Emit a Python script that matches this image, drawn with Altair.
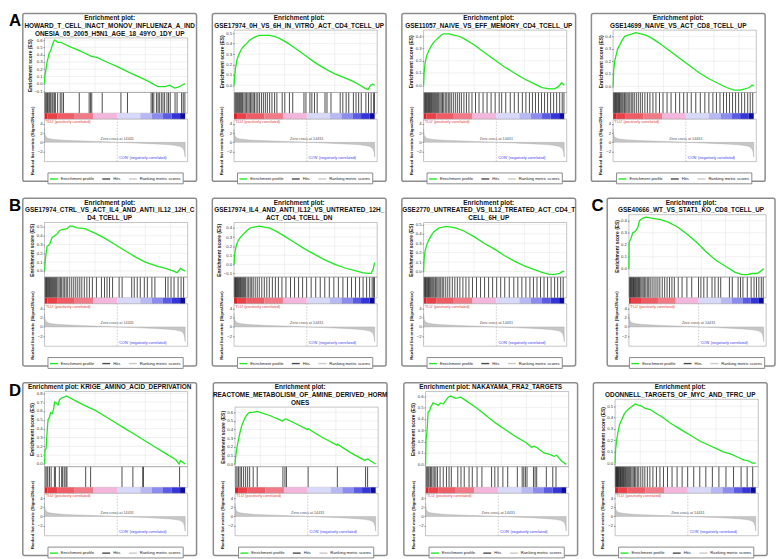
import altair as alt
import pandas as pd

FONT = "Liberation Sans"
XMAX = 28400
X_TICKS = [0, 5000, 10000, 15000, 20000, 25000]
RANK_DOMAIN = [-4.2, 5.05]
RANK_TICKS = [-2, 0, 2, 4]
ZERO_CROSS = 14431
LEGEND_LABELS = ["Enrichment profile", "Hits", "Ranking metric scores"]
LEGEND_COLORS = ["#1ee81e", "#4a4a4a", "#c8c8c8"]

# ranked list metric (shared by all panels)
rank_x = [0, 30, 80, 150, 300, 500, 800, 1200, 2000, 3000, 4000, 5000, 6500, 8000, 10000,
          12000, 14431, 16000, 18000, 20000, 22000, 23500, 25000, 26000, 26800, 27300, 27600,
          27800, 27900]
rank_y = [2.9, 2.3, 1.8, 1.5, 1.2, 1.0, 0.85, 0.75, 0.62, 0.52, 0.45, 0.4, 0.33, 0.27, 0.19,
          0.11, 0.0, -0.07, -0.15, -0.24, -0.34, -0.43, -0.55, -0.68, -0.85, -1.1, -1.5,
          -2.2, -3.2]

# colour bar segments
cb_start = [0, 600, 2500, 6000, 9700, 14431, 19000, 21300, 23500, 25200, 26900]
cb_end = [600, 2500, 6000, 9700, 14431, 19000, 21300, 23500, 25200, 26900, 27900]
cb_value = [1.0, 0.9, 0.8, 0.7, 0.35, -0.2, -0.35, -0.55, -0.7, -0.85, -1.0]
cb_scale_domain = [-1.0, -0.85, -0.7, -0.55, -0.35, -0.2, 0.35, 0.7, 0.8, 0.9, 1.0]
cb_scale_colors = ["#0c0c9c", "#3434d8", "#5a5ae6", "#8c8cf0", "#b8b8f4", "#d8d8f8",
                   "#f4b6dc", "#f07a86", "#ee5c66", "#ea4048", "#dc2028"]

# ---------------- panel A1
a1_title = ["Enrichment plot:", "HOWARD_T_CELL_INACT_MONOV_INFLUENZA_A_IND",
            "ONESIA_05_2005_H5N1_AGE_18_49YO_1DY_UP"]
a1_es_x = [0, 100, 300, 500, 700, 900, 1200, 1500, 1800, 2000, 2300, 2600, 3300, 3500, 5000,
           6800, 8000, 9200, 10500, 12000, 14000, 17000, 19500, 21000, 22500, 24000, 24800,
           25800, 26400, 27000, 27500, 27900]
a1_es_y = [0, 0.12, 0.2, 0.3, 0.35, 0.42, 0.45, 0.52, 0.58, 0.6, 0.59, 0.57, 0.57, 0.56, 0.51,
           0.46, 0.42, 0.38, 0.36, 0.31, 0.25, 0.15, 0.07, 0.02, -0.04, -0.04, -0.02, -0.06,
           -0.05, -0.03, -0.01, 0.0]
a1_dom = [-0.12, 0.63]
a1_ticks = [-0.1, 0.0, 0.1, 0.2, 0.3, 0.4, 0.5, 0.6]
a1_hits = [60, 250, 450, 580, 840, 1030, 1230, 1490, 1680, 1950, 2150, 2600, 3120, 3440, 3770,
           6890, 8850, 9110, 9370, 11450, 15160, 16460, 21150, 21420, 21680, 22200, 22520,
           22780, 23170, 23500, 23830, 24290, 24610, 24940, 25900, 26300, 27200, 27520, 27850]

# ---------------- panel A2
a2_title = ["Enrichment plot:", "GSE17974_0H_VS_6H_IN_VITRO_ACT_CD4_TCELL_UP"]
a2_es_x = [0, 100, 300, 600, 1000, 1500, 2000, 2500, 3000, 4000, 5000, 6000, 7000, 8000, 9000,
           10500, 12000, 14000, 16000, 18000, 20000, 22000, 23500, 25000, 26000, 26600, 27100,
           27500, 27900]
a2_es_y = [0, 0.08, 0.17, 0.25, 0.3, 0.35, 0.38, 0.4, 0.43, 0.46, 0.48, 0.48, 0.48, 0.47, 0.45,
           0.41, 0.36, 0.29, 0.22, 0.16, 0.11, 0.07, 0.04, 0.0, -0.03, -0.04, 0.0, 0.01, 0.0]
a2_dom = [-0.07, 0.53]
a2_ticks = [0.0, 0.1, 0.2, 0.3, 0.4, 0.5]
a2_hits = [130, 330, 520, 720, 920, 1110, 1310, 1510, 1700, 1960, 2220, 2490, 2750, 3010, 3270,
           3530, 3790, 4050, 4380, 4710, 5030, 5430, 5820, 6210, 6610, 7060, 7520, 8040, 8500,
           9550, 10070, 10990, 11640, 13870, 14260, 15050, 15440, 15960, 16490, 18050, 18440,
           19230, 21060, 21580, 22240, 22760, 23680, 24200, 24720, 25240, 26160, 26680, 27200,
           27700, 27850]

# ---------------- panel A3
a3_title = ["Enrichment plot:", "GSE11057_NAIVE_VS_EFF_MEMORY_CD4_TCELL_UP"]
a3_es_x = [0, 100, 300, 600, 1000, 1500, 2000, 2500, 3000, 3500, 4000, 5000, 6000, 7000, 8000,
           10000, 12000, 14000, 16000, 18000, 20000, 22000, 23500, 25000, 26000, 26800, 27400,
           27900]
a3_es_y = [0, 0.1, 0.18, 0.24, 0.28, 0.32, 0.35, 0.37, 0.39, 0.41, 0.42, 0.42, 0.41, 0.4, 0.38,
           0.33, 0.27, 0.21, 0.15, 0.1, 0.05, 0.01, -0.02, -0.03, -0.03, -0.01, 0.02, 0.0]
a3_dom = [-0.06, 0.45]
a3_ticks = [0.0, 0.1, 0.2, 0.3, 0.4]
a3_hits = [100, 250, 400, 550, 700, 850, 1000, 1150, 1300, 1450, 1600, 1800, 2000, 2200, 2400,
           2600, 2800, 3000, 3250, 3500, 3750, 4000, 4300, 4600, 4900, 5200, 5500, 5900, 6300,
           6700, 7100, 7500, 8000, 8500, 9000, 9600, 10300, 11000, 11800, 12600, 13400, 14200,
           15000, 15500, 16300, 17200, 18000, 18800, 19600, 20300, 21000, 21600, 22200, 22800,
           23400, 24000, 24600, 25200, 25800, 26400, 27000, 27500, 27850]

# ---------------- panel A4
a4_title = ["Enrichment plot:", "GSE14699_NAIVE_VS_ACT_CD8_TCELL_UP"]
a4_es_x = [0, 100, 300, 600, 900, 1300, 1800, 2300, 3000, 3800, 4500, 5500, 6500, 7500, 9000,
           11000, 13000, 15000, 17000, 19000, 21000, 22500, 24000, 25200, 26200, 27000, 27600,
           27900]
a4_es_y = [0, 0.12, 0.2, 0.25, 0.3, 0.33, 0.37, 0.4, 0.41, 0.42, 0.43, 0.42, 0.41, 0.39, 0.35,
           0.29, 0.23, 0.17, 0.11, 0.06, 0.02, -0.01, -0.03, -0.03, -0.02, -0.01, 0.01, 0.0]
a4_dom = [-0.05, 0.45]
a4_ticks = [0.0, 0.1, 0.2, 0.3, 0.4]
a4_hits = [80, 220, 360, 500, 640, 800, 950, 1100, 1250, 1400, 1600, 1800, 2000, 2250, 2500,
           2750, 3000, 3300, 3600, 3900, 4200, 4600, 5000, 5400, 5800, 6300, 6800, 7300, 7900,
           8500, 9200, 9900, 10700, 11500, 12400, 13200, 14000, 14700, 15500, 16400, 17300,
           18200, 19000, 19800, 20500, 21200, 21900, 22500, 23100, 23700, 24300, 24900, 25500,
           26100, 26700, 27200, 27700]

# ---------------- panel B1
b1_title = ["Enrichment plot:", "GSE17974_CTRL_VS_ACT_IL4_AND_ANTI_IL12_12H_C", "D4_TCELL_UP"]
b1_es_x = [0, 200, 500, 1000, 1500, 2000, 2500, 3000, 3500, 4500, 5000, 5500, 6500, 8000,
           10000, 12000, 14000, 16000, 18000, 20000, 22000, 24000, 25500, 26300, 27000, 27500,
           27900]
b1_es_y = [0, 0.15, 0.28, 0.3, 0.38, 0.4, 0.42, 0.46, 0.47, 0.48, 0.51, 0.51, 0.49, 0.48,
           0.43, 0.37, 0.3, 0.23, 0.16, 0.1, 0.06, 0.03, 0.0, -0.02, 0.03, 0.01, 0.0]
b1_dom = [-0.07, 0.55]
b1_ticks = [0.0, 0.1, 0.2, 0.3, 0.4, 0.5]
b1_hits = [100, 250, 400, 550, 700, 850, 1000, 1200, 1400, 1600, 1800, 2000, 2200, 2400, 2650,
           2900, 3150, 3400, 3700, 4000, 4300, 4600, 5000, 5400, 5800, 6200, 6600, 7000, 7400,
           7900, 8400, 8900, 9500, 10300, 11300, 11900, 12400, 12900, 13500, 14800, 15400,
           17300, 17800, 18400, 19000, 19800, 20400, 21300, 21900, 24000, 24500, 25100, 25700,
           26500, 27100, 27600]

# ---------------- panel B2
b2_title = ["Enrichment plot:", "GSE17974_IL4_AND_ANTI_IL12_VS_UNTREATED_12H_",
            "ACT_CD4_TCELL_DN"]
b2_es_x = [0, 150, 400, 800, 1300, 1800, 2500, 3200, 4000, 5000, 6000, 7000, 8500, 10000,
           12000, 14000, 16000, 18000, 20000, 22000, 24000, 25500, 26500, 27200, 27600, 27900]
b2_es_y = [0, 0.12, 0.2, 0.26, 0.3, 0.33, 0.37, 0.4, 0.41, 0.42, 0.41, 0.4, 0.36, 0.31, 0.24,
           0.17, 0.11, 0.05, 0.0, -0.04, -0.07, -0.09, -0.1, -0.1, -0.05, 0.02]
b2_dom = [-0.14, 0.46]
b2_ticks = [-0.1, 0.0, 0.1, 0.2, 0.3, 0.4]
b2_hits = [60, 180, 300, 420, 550, 700, 850, 1000, 1150, 1300, 1500, 1700, 1900, 2100, 2300,
           2600, 2900, 3200, 3500, 3800, 4200, 4600, 5000, 5500, 6000, 6500, 7000, 7600, 8200,
           8800, 9500, 10300, 11200, 12000, 12800, 13600, 14400, 15300, 16200, 17100, 18000,
           18900, 19800, 20700, 21600, 22500, 23300, 24100, 24900, 25600, 26300, 26900, 27400,
           27700, 27850]

# ---------------- panel B3
b3_title = ["Enrichment plot:", "GSE2770_UNTREATED_VS_IL12_TREATED_ACT_CD4_T", "CELL_6H_UP"]
b3_es_x = [0, 100, 300, 600, 1000, 1500, 2000, 2500, 3000, 3800, 4500, 5500, 6500, 8000, 10000,
           12000, 14000, 16000, 18000, 20000, 22000, 23500, 25000, 26000, 27000, 27600, 27900]
b3_es_y = [0, 0.13, 0.22, 0.28, 0.33, 0.38, 0.42, 0.44, 0.46, 0.47, 0.48, 0.47, 0.46, 0.43,
           0.37, 0.3, 0.24, 0.17, 0.11, 0.06, 0.02, -0.01, -0.03, -0.03, -0.02, 0.0, 0.0]
b3_dom = [-0.06, 0.52]
b3_ticks = [0.0, 0.1, 0.2, 0.3, 0.4, 0.5]
b3_hits = [90, 230, 370, 520, 670, 820, 980, 1150, 1320, 1500, 1700, 1900, 2100, 2350, 2600,
           2850, 3100, 3400, 3700, 4000, 4400, 4800, 5200, 5700, 6200, 6700, 7200, 7800, 8400,
           9000, 9700, 10500, 11300, 12100, 12900, 13700, 14500, 15300, 16100, 17000, 17900,
           18700, 19500, 20300, 21100, 21800, 22500, 23200, 23900, 24600, 25300, 26000, 26600,
           27200, 27700]

# ---------------- panel C
c1_title = ["Enrichment plot:", "GSE40666_WT_VS_STAT1_KO_CD8_TCELL_UP"]
c1_es_x = [0, 50, 400, 800, 1300, 1800, 2200, 2800, 3500, 5000, 6500, 8000, 10000, 12000,
           14000, 16000, 18000, 20000, 22000, 23500, 24500, 25500, 26500, 27300, 27900]
c1_es_y = [0, 0.22, 0.25, 0.3, 0.31, 0.34, 0.4, 0.42, 0.43, 0.42, 0.41, 0.39, 0.35, 0.29,
           0.22, 0.14, 0.07, 0.02, -0.03, -0.05, -0.05, -0.04, -0.04, -0.02, 0.0]
c1_dom = [-0.07, 0.45]
c1_ticks = [0.0, 0.1, 0.2, 0.3, 0.4]
c1_hits = [100, 230, 360, 500, 650, 800, 950, 1100, 1250, 1400, 1600, 1800, 2000, 2200, 2450,
           2700, 2950, 3200, 3500, 3800, 4100, 4400, 4800, 5200, 5600, 6000, 6400, 6900, 7400,
           7900, 8400, 8900, 9400, 10200, 11000, 12000, 13000, 14400, 14900, 15500, 16200,
           17200, 17800, 18500, 19000, 20800, 21400, 22600, 23100, 23600, 24500, 25300, 25900,
           26400, 26900, 27400, 27800]

# ---------------- panel D1
d1_title = ["Enrichment plot: KRIGE_AMINO_ACID_DEPRIVATION"]
d1_es_x = [0, 100, 300, 500, 700, 1000, 1200, 1500, 1800, 2000, 2300, 2700, 3000, 3500, 4000,
           4300, 5000, 6000, 8000, 10000, 12000, 14000, 16000, 18000, 20000, 22000, 24000,
           26000, 26700, 27000, 27400, 27900]
d1_es_y = [0, 0.16, 0.17, 0.35, 0.5, 0.53, 0.58, 0.57, 0.62, 0.7, 0.69, 0.67, 0.73, 0.75,
           0.76, 0.77, 0.75, 0.72, 0.66, 0.61, 0.54, 0.47, 0.4, 0.33, 0.26, 0.19, 0.12, 0.05,
           0.0, 0.04, 0.02, 0.0]
d1_dom = [-0.03, 0.82]
d1_ticks = [0.0, 0.1, 0.2, 0.3, 0.4, 0.5, 0.6, 0.7, 0.8]
d1_hits = [130, 460, 650, 980, 1310, 1960, 2160, 2940, 3400, 3600, 3920, 4250, 4450, 8170,
           9150, 15370, 17530, 19490, 19620, 26800]

# ---------------- panel D2
d2_title = ["Enrichment plot:", "REACTOME_METABOLISM_OF_AMINE_DERIVED_HORM", "ONES"]
d2_es_x = [0, 150, 400, 700, 1000, 1300, 1700, 2100, 2500, 2900, 3600, 4400, 5000, 7000, 9400,
           9900, 10200, 12000, 14400, 14500, 17000, 20200, 20300, 23000, 25800, 25900, 26300,
           27900]
d2_es_y = [0, 0.1, 0.2, 0.29, 0.37, 0.44, 0.5, 0.55, 0.58, 0.6, 0.6, 0.61, 0.6, 0.56, 0.5,
           0.52, 0.52, 0.47, 0.4, 0.41, 0.32, 0.22, 0.23, 0.13, 0.04, 0.05, 0.06, 0.0]
d2_dom = [-0.03, 0.66]
d2_ticks = [0.0, 0.1, 0.2, 0.3, 0.4, 0.5, 0.6]
d2_hits = [150, 400, 700, 1000, 1300, 1700, 2100, 2500, 2900, 3600, 4400, 9500, 9900, 10200,
           14500, 20300, 25900, 26300]

# ---------------- panel D3
d3_title = ["Enrichment plot: NAKAYAMA_FRA2_TARGETS"]
d3_es_x = [0, 100, 300, 500, 800, 1000, 1500, 2000, 2500, 3000, 3500, 4000, 4500, 5000, 6000,
           7000, 8000, 10000, 12000, 14000, 16000, 18000, 20000, 21000, 21500, 22000, 23500,
           24500, 25500, 26000, 27000, 27900]
d3_es_y = [0, 0.22, 0.3, 0.46, 0.47, 0.5, 0.54, 0.53, 0.52, 0.54, 0.53, 0.56, 0.59, 0.6, 0.58,
           0.59, 0.56, 0.5, 0.43, 0.36, 0.3, 0.24, 0.19, 0.15, 0.16, 0.15, 0.1, 0.09, 0.07,
           0.08, 0.03, 0.0]
d3_dom = [-0.02, 0.64]
d3_ticks = [0.0, 0.1, 0.2, 0.3, 0.4, 0.5, 0.6]
d3_hits = [130, 320, 510, 700, 960, 1150, 1470, 1730, 2040, 2360, 2880, 3510, 4150, 4660,
           5110, 6390, 7030, 7670, 8630, 9270, 10220, 11180, 13100, 13740, 14380, 15340, 16300,
           18210, 19170, 19490, 19810, 20130, 21410, 21730, 22050, 23960, 25240, 25880]

# ---------------- panel D4
d4_title = ["Enrichment plot:", "ODONNELL_TARGETS_OF_MYC_AND_TFRC_UP"]
d4_es_x = [0, 100, 300, 600, 900, 1300, 1800, 2300, 2800, 3400, 4000, 4600, 5300, 6000, 7000,
           8000, 9500, 11000, 12500, 14000, 15500, 17000, 18500, 20000, 21500, 23000, 24500,
           25500, 26500, 27300, 27900]
d4_es_y = [0, 0.12, 0.2, 0.28, 0.34, 0.38, 0.43, 0.46, 0.48, 0.5, 0.52, 0.51, 0.5, 0.48,
           0.47, 0.44, 0.4, 0.35, 0.31, 0.27, 0.23, 0.19, 0.16, 0.13, 0.1, 0.08, 0.05, 0.03,
           0.02, 0.0, 0.0]
d4_dom = [-0.03, 0.56]
d4_ticks = [0.0, 0.1, 0.2, 0.3, 0.4, 0.5]
d4_hits = [60, 160, 260, 360, 470, 580, 700, 820, 950, 1080, 1220, 1360, 1500, 1650, 1800,
           1950, 2100, 2300, 2500, 2700, 2900, 3100, 3350, 3600, 3850, 4100, 4400, 4700, 5100,
           5500, 5900, 6400, 6900, 7500, 8200, 8900, 9600, 10400, 11300, 12300, 13300, 14400,
           15600, 16800, 18000, 19300, 20600, 22000, 23500, 25000, 26200, 27300]


GRID = "#e3e3e3"
FRAME = "#9c9c9c"


def panel(title, es_x, es_y, es_dom, es_ticks, hits, W, H):
    XL, XR = 22, W - 9
    n = len(title)
    es_top = 1 + 7.9 * n
    rk_bot = H - 20
    rk_top = rk_bot - 43
    cb_bot, cb_top = rk_top, rk_top - 6
    hits_bot, hits_top = cb_top, cb_top - 21
    es_bot = hits_top

    xs = alt.Scale(domain=[0, XMAX], range=[XL, XR], nice=False, zero=False)
    es_sc = alt.Scale(domain=es_dom, range=[es_bot, es_top], nice=False, zero=False)
    hit_sc = alt.Scale(domain=[0, 1], range=[hits_bot, hits_top], nice=False, zero=False)
    cb_sc = alt.Scale(domain=[0, 1], range=[cb_bot, cb_top], nice=False, zero=False)
    rk_sc = alt.Scale(domain=RANK_DOMAIN, range=[rk_bot, rk_top], nice=False, zero=False)

    x_axis = alt.Axis(orient="bottom", offset=-(H - rk_bot), values=X_TICKS, format=",d",
                      title="Rank in Ordered Dataset", grid=False, domain=False, tickSize=1.5,
                      labelFontSize=4.3, titleFontSize=4.8, labelPadding=0.5, titlePadding=0.5,
                      labelFlush=False, tickColor="#777", labelColor="#333", titleColor="#222")
    es_axis = alt.Axis(orient="left", offset=-XL, values=es_ticks, format=".1f",
                       title="Enrichment score (ES)", grid=False, domain=False, tickSize=1.5,
                       labelFontSize=4.3, titleFontSize=5, labelPadding=1, titlePadding=1.5,
                       labelFlush=False, labelOverlap=False, tickColor="#777",
                       labelColor="#333", titleColor="#222")
    rk_axis = alt.Axis(orient="left", offset=-XL, values=RANK_TICKS, format="d",
                       title="Ranked list metric (Signal2Noise)", grid=False, domain=False,
                       tickSize=1.5, labelFontSize=4.3, titleFontSize=4.4, labelPadding=1,
                       titlePadding=3, labelFlush=False, labelOverlap=False, tickColor="#777",
                       labelColor="#333", titleColor="#222")

    def X(f, axis=None):
        return alt.X(f, type="quantitative", scale=xs, axis=axis)

    def Y(f, sc, axis=None):
        return alt.Y(f, type="quantitative", scale=sc, axis=axis)

    hgrid = alt.Chart(pd.DataFrame({"x": [0] * len(es_ticks), "x2": [XMAX] * len(es_ticks),
                                    "y": es_ticks})).mark_rule(
        color=GRID, strokeWidth=0.5).encode(x=X("x"), x2="x2", y=Y("y", es_sc, es_axis))
    vgrid = alt.Chart(pd.DataFrame({"x": X_TICKS[1:], "y": [es_dom[0]] * 5,
                                    "y2": [es_dom[1]] * 5})).mark_rule(
        color=GRID, strokeWidth=0.5).encode(x=X("x"), y=Y("y", es_sc), y2="y2")
    es_frame = alt.Chart(pd.DataFrame({"x": [0], "x2": [XMAX], "y": [es_dom[0]],
                                       "y2": [es_dom[1]]})).mark_rect(
        filled=False, stroke=FRAME, strokeWidth=0.6).encode(
        x=X("x"), x2="x2", y=Y("y", es_sc), y2="y2")
    es_line = alt.Chart(pd.DataFrame({"x": es_x, "y": es_y,
                                      "series": ["Enrichment profile"] * len(es_x)})).mark_line(
        strokeWidth=1.3).encode(
        x=X("x"), y=Y("y", es_sc),
        color=alt.Color("series:N",
                        scale=alt.Scale(domain=LEGEND_LABELS, range=LEGEND_COLORS),
                        legend=alt.Legend(orient="none", legendX=(W - 126) / 2,
                                          legendY=rk_bot + 11, direction="horizontal",
                                          title=None, symbolType="stroke",
                                          symbolStrokeWidth=1.4, symbolSize=64,
                                          labelFontSize=4.2, labelFont=FONT, labelColor="#222",
                                          labelOffset=2, columnPadding=5, padding=1.5,
                                          strokeColor="#8a8a8a", fillColor="white",
                                          cornerRadius=0)))
    hit_df = pd.DataFrame({"x": hits, "y": [0] * len(hits), "y2": [1] * len(hits)})
    hit_rules = alt.Chart(hit_df).mark_rule(color="#151515", strokeWidth=0.9,
                                            opacity=0.85).encode(
        x=X("x"), y=Y("y", hit_sc), y2="y2")
    hit_frame = alt.Chart(pd.DataFrame({"x": [0], "x2": [XMAX], "y": [0], "y2": [1]})).mark_rect(
        filled=False, stroke=FRAME, strokeWidth=0.6).encode(
        x=X("x"), x2="x2", y=Y("y", hit_sc), y2="y2")
    cbar = alt.Chart(pd.DataFrame({"x": cb_start, "x2": cb_end, "v": cb_value,
                                   "y": [0] * len(cb_start), "y2": [1] * len(cb_start)})
                     ).mark_rect().encode(
        x=X("x"), x2="x2", y=Y("y", cb_sc), y2="y2",
        fill=alt.Fill("v:Q", scale=alt.Scale(domain=cb_scale_domain, range=cb_scale_colors),
                      legend=None))
    rk_area = alt.Chart(pd.DataFrame({"x": rank_x, "y": rank_y, "z": [0] * len(rank_x)})
                        ).mark_area(fill="#c6c6c6", stroke="#a6a6a6", strokeWidth=0.4).encode(
        x=X("x", x_axis), y=Y("y", rk_sc, rk_axis), y2="z")
    rk_frame = alt.Chart(pd.DataFrame({"x": [0], "x2": [XMAX], "y": [RANK_DOMAIN[0]],
                                       "y2": [RANK_DOMAIN[1]]})).mark_rect(
        filled=False, stroke=FRAME, strokeWidth=0.6).encode(
        x=X("x"), x2="x2", y=Y("y", rk_sc), y2="y2")
    zc_rule = alt.Chart(pd.DataFrame({"x": [ZERO_CROSS], "y": [RANK_DOMAIN[0]],
                                      "y2": [RANK_DOMAIN[1]]})).mark_rule(
        color="#9a9a9a", strokeWidth=0.5, strokeDash=[1.5, 1.5]).encode(
        x=X("x"), y=Y("y", rk_sc), y2="y2")
    zc_text = alt.Chart(pd.DataFrame({"x": [ZERO_CROSS], "y": [0.0]})).mark_text(
        text="Zero cross at 14431", font=FONT, fontSize=3.8, color="#555", dy=-1.5,
        baseline="bottom", align="center").encode(x=X("x"), y=Y("y", rk_sc))
    pos_text = alt.Chart(pd.DataFrame({"x": [150], "y": [RANK_DOMAIN[1]]})).mark_text(
        text="'TLU' (positively correlated)", font=FONT, fontSize=3.8, color="#e23a3a",
        dy=1, baseline="top", align="left").encode(x=X("x"), y=Y("y", rk_sc))
    neg_text = alt.Chart(pd.DataFrame({"x": [14700], "y": [RANK_DOMAIN[0]]})).mark_text(
        text="'CON' (negatively correlated)", font=FONT, fontSize=3.8, color="#3a3af0",
        dy=-1.5, baseline="bottom", align="left").encode(x=X("x"), y=Y("y", rk_sc))
    title_text = alt.Chart(pd.DataFrame({"t": [0]})).mark_text(
        text=title, font=FONT, fontSize=6.5, fontWeight="bold", color="#111",
        baseline="top", align="center", lineHeight=7.9).encode(
        x=alt.value(W / 2), y=alt.value(1.5))

    return alt.layer(hgrid, vgrid, es_frame, es_line, hit_rules, hit_frame, cbar, rk_area,
                     rk_frame, zc_rule, zc_text, pos_text, neg_text, title_text).properties(
        width=W, height=H,
        view=alt.ViewBackground(stroke="#8c8c8c", strokeWidth=1.5, cornerRadius=2,
                                fill="white")
    ).resolve_scale(y="independent")


def letter(t, H, w):
    return alt.Chart(pd.DataFrame({"t": [t]})).mark_text(
        font=FONT, fontSize=17, fontWeight="bold", color="black", align="left",
        baseline="top").encode(text="t:N", x=alt.value(0), y=alt.value(0)).properties(
        width=w, height=H, view=alt.ViewBackground(stroke="transparent"))


def indep(c):
    return c.resolve_scale(color="independent", fill="independent")


H1, H2, H3 = 170, 170, 175
W = 176

row1 = indep(alt.hconcat(
    indep(alt.hconcat(letter("A", H1, 11),
                      panel(a1_title, a1_es_x, a1_es_y, a1_dom, a1_ticks, a1_hits, W, H1),
                      spacing=0)),
    panel(a2_title, a2_es_x, a2_es_y, a2_dom, a2_ticks, a2_hits, W, H1),
    panel(a3_title, a3_es_x, a3_es_y, a3_dom, a3_ticks, a3_hits, W, H1),
    panel(a4_title, a4_es_x, a4_es_y, a4_dom, a4_ticks, a4_hits, W, H1),
    spacing=14))

row2 = indep(alt.hconcat(
    indep(alt.hconcat(letter("B", H2, 11),
                      panel(b1_title, b1_es_x, b1_es_y, b1_dom, b1_ticks, b1_hits, W, H2),
                      spacing=0)),
    panel(b2_title, b2_es_x, b2_es_y, b2_dom, b2_ticks, b2_hits, W, H2),
    panel(b3_title, b3_es_x, b3_es_y, b3_dom, b3_ticks, b3_hits, W, H2),
    indep(alt.hconcat(letter("C", H2, 14),
                      panel(c1_title, c1_es_x, c1_es_y, c1_dom, c1_ticks, c1_hits, 170, H2),
                      spacing=0)),
    spacing=14))

row3 = indep(alt.hconcat(
    indep(alt.hconcat(letter("D", H3, 11),
                      panel(d1_title, d1_es_x, d1_es_y, d1_dom, d1_ticks, d1_hits, W, H3),
                      spacing=0)),
    panel(d2_title, d2_es_x, d2_es_y, d2_dom, d2_ticks, d2_hits, W, H3),
    panel(d3_title, d3_es_x, d3_es_y, d3_dom, d3_ticks, d3_hits, W, H3),
    panel(d4_title, d4_es_x, d4_es_y, d4_dom, d4_ticks, d4_hits, W, H3),
    spacing=14))

chart = indep(alt.vconcat(row1, row2, row3, spacing=11)).properties(
    padding=0, background="white"
).configure_axis(labelFont=FONT, titleFont=FONT)

chart.save("out.html", embed_options={"renderer": "svg", "actions": False})
